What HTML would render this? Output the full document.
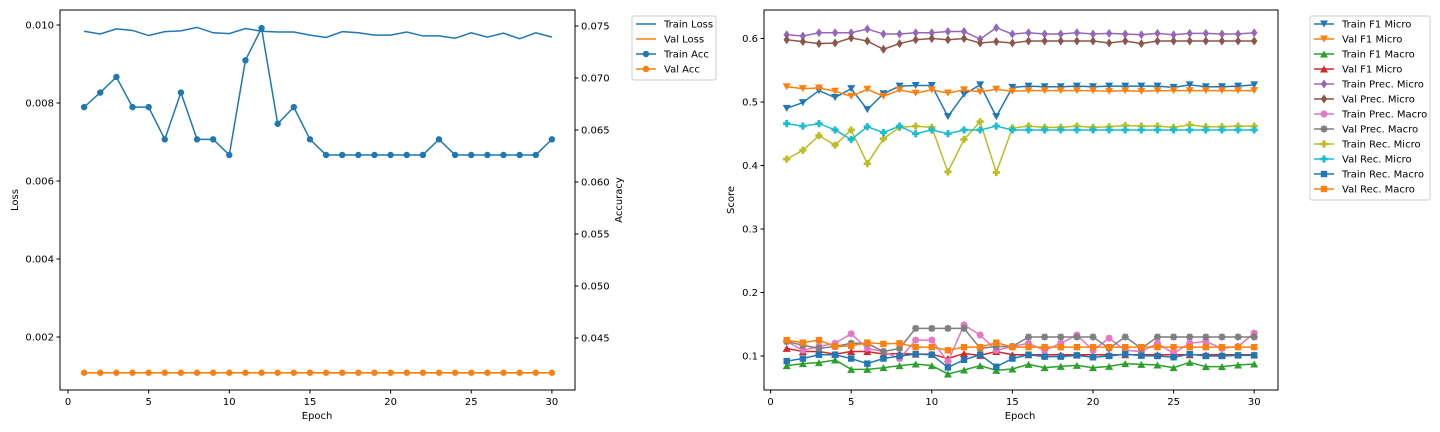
<!DOCTYPE html>
<html><head><meta charset="utf-8">
<style>
html,body{margin:0;padding:0;background:#fff;}
svg{display:block;font-family:"DejaVu Sans","Liberation Sans",sans-serif;}
</style></head>
<body>
<svg id="chart" width="1440" height="432" viewBox="0 0 1440 432" xmlns="http://www.w3.org/2000/svg"></svg>
<script>
const epochs = Array.from({length:30},(_,i)=>i+1);
const xTicks = [0,5,10,15,20,25,30];
const lossTicks = [0.002,0.004,0.006,0.008,0.010];
const lossTickLabels = ["0.002","0.004","0.006","0.008","0.010"];
const accTicks = [0.045,0.050,0.055,0.060,0.065,0.070,0.075];
const accTickLabels = ["0.045","0.050","0.055","0.060","0.065","0.070","0.075"];
const scoreTicks = [0.1,0.2,0.3,0.4,0.5,0.6];
const scoreTickLabels = ["0.1","0.2","0.3","0.4","0.5","0.6"];

const trainLoss = [0.00984,0.00977,0.0099,0.00986,0.00973,0.00983,0.00985,0.00994,0.0098,0.00978,0.00991,0.00984,0.00982,0.00982,0.00974,0.00968,0.00983,0.0098,0.00974,0.00974,0.00982,0.00972,0.00972,0.00966,0.0098,0.00969,0.00979,0.00965,0.0098,0.00969];
const valLoss = Array(30).fill(0.00108);
const trainAcc = [0.0672,0.0686,0.0701,0.0672,0.0672,0.0641,0.0686,0.0641,0.0641,0.0626,0.0717,0.0748,0.0656,0.0672,0.0641,0.0626,0.0626,0.0626,0.0626,0.0626,0.0626,0.0626,0.0641,0.0626,0.0626,0.0626,0.0626,0.0626,0.0626,0.0641];
const valAcc = Array(30).fill(0.04166);

const trainF1Micro = [0.490,0.499,0.518,0.507,0.521,0.488,0.513,0.525,0.526,0.526,0.477,0.512,0.527,0.477,0.523,0.525,0.524,0.524,0.525,0.524,0.525,0.525,0.525,0.525,0.523,0.527,0.524,0.524,0.525,0.527];
const valF1Micro = [0.524,0.521,0.522,0.517,0.509,0.520,0.509,0.519,0.514,0.519,0.514,0.519,0.516,0.520,0.517,0.518,0.518,0.518,0.518,0.518,0.517,0.518,0.517,0.518,0.518,0.518,0.518,0.518,0.518,0.518];
const trainF1Macro = [0.0848,0.0879,0.0895,0.0937,0.079,0.079,0.0816,0.0848,0.0874,0.0848,0.0717,0.078,0.0848,0.0774,0.0795,0.0869,0.0816,0.0837,0.0853,0.0816,0.0837,0.0879,0.0869,0.0858,0.0816,0.09,0.0832,0.0832,0.0858,0.0874];
const valF1Macro = [0.112,0.107,0.107,0.103,0.107,0.107,0.103,0.104,0.103,0.103,0.096,0.104,0.101,0.107,0.102,0.102,0.102,0.102,0.102,0.102,0.102,0.102,0.102,0.102,0.102,0.102,0.102,0.102,0.102,0.102];
const trainPrecMicro = [0.606,0.604,0.609,0.609,0.609,0.615,0.607,0.607,0.609,0.609,0.611,0.611,0.599,0.617,0.607,0.609,0.607,0.607,0.609,0.607,0.608,0.607,0.606,0.608,0.606,0.608,0.608,0.607,0.607,0.609];
const valPrecMicro = [0.598,0.595,0.592,0.593,0.601,0.596,0.583,0.592,0.598,0.600,0.598,0.600,0.593,0.595,0.593,0.596,0.596,0.596,0.596,0.596,0.593,0.596,0.592,0.596,0.596,0.596,0.596,0.596,0.596,0.596];
const trainPrecMacro = [0.123,0.109,0.115,0.120,0.135,0.112,0.107,0.096,0.125,0.125,0.091,0.149,0.133,0.109,0.115,0.120,0.109,0.120,0.133,0.109,0.128,0.109,0.107,0.120,0.104,0.120,0.123,0.112,0.115,0.136];
const valPrecMacro = [0.123,0.117,0.112,0.115,0.120,0.120,0.107,0.112,0.1435,0.1435,0.1435,0.1435,0.112,0.115,0.115,0.130,0.130,0.130,0.130,0.130,0.112,0.130,0.112,0.130,0.130,0.130,0.130,0.130,0.130,0.130];
const trainRecMicro = [0.410,0.424,0.447,0.432,0.456,0.403,0.442,0.460,0.462,0.460,0.390,0.441,0.469,0.389,0.459,0.462,0.460,0.460,0.462,0.460,0.461,0.463,0.462,0.462,0.460,0.464,0.461,0.461,0.462,0.462];
const valRecMicro = [0.466,0.462,0.466,0.456,0.441,0.461,0.452,0.462,0.450,0.456,0.450,0.456,0.456,0.462,0.456,0.456,0.456,0.456,0.456,0.456,0.456,0.456,0.456,0.456,0.456,0.456,0.456,0.456,0.456,0.456];
const trainRecMacro = [0.092,0.096,0.102,0.102,0.096,0.088,0.096,0.100,0.103,0.102,0.082,0.094,0.102,0.083,0.096,0.102,0.099,0.099,0.101,0.098,0.100,0.103,0.1005,0.100,0.098,0.103,0.100,0.100,0.101,0.101];
const valRecMacro = [0.125,0.121,0.125,0.115,0.116,0.121,0.119,0.120,0.114,0.114,0.109,0.114,0.114,0.121,0.114,0.114,0.114,0.114,0.114,0.114,0.114,0.114,0.114,0.114,0.114,0.114,0.114,0.114,0.114,0.114];

const NS="http://www.w3.org/2000/svg";
const svg=document.getElementById('chart');
function mk(tag,attrs,parent){const e=document.createElementNS(NS,tag);for(const k in attrs)e.setAttribute(k,attrs[k]);(parent||svg).appendChild(e);return e;}
function txt(s,x,y,anchor,parent,size,rot){const t=mk('text',{x:x,y:y,'text-anchor':anchor,'font-size':size||10,fill:'#000'},parent);if(rot)t.setAttribute('transform',`rotate(-90 ${x} ${y})`);t.textContent=s;return t;}

// scales
const Lx=e=>68+e*16.13;
const Ly=v=>337-(v-0.002)/0.001*39;
const Ay=v=>338-(v-0.045)/0.005*52;
const Rx=e=>770.6+e*16.12;
const Ry=v=>356-(v-0.1)*635;

function marker(g,shape,x,y,c){
  if(shape==='o'){mk('circle',{cx:x,cy:y,r:3.2,fill:c},g);}
  else if(shape==='v'){mk('polygon',{points:`${x-4},${y-3.5} ${x+4},${y-3.5} ${x},${y+3.5}`,fill:c},g);}
  else if(shape==='^'){mk('polygon',{points:`${x-4},${y+3.5} ${x+4},${y+3.5} ${x},${y-3.5}`,fill:c},g);}
  else if(shape==='d'){mk('polygon',{points:`${x},${y-4.5} ${x+3.2},${y} ${x},${y+4.5} ${x-3.2},${y}`,fill:c},g);}
  else if(shape==='s'){mk('rect',{x:x-3.2,y:y-3.2,width:6.4,height:6.4,fill:c},g);}
  else if(shape==='P'){mk('path',{d:`M${x-1.4},${y-3.6}h2.8v2.2h2.2v2.8h-2.2v2.2h-2.8v-2.2h-2.2v-2.8h2.2z`,fill:c},g);}
  else if(shape==='*'){mk('path',{d:`M${x-3.5},${y}h7M${x},${y-3.5}v7M${x-2.6},${y-2.6}l5.2,5.2M${x+2.6},${y-2.6}l-5.2,5.2`,stroke:c,'stroke-width':2},g);}
}
function series(name,xs,ys,sx,sy,c,shape){
  const g=mk('g',{});
  
  
  const pts=xs.map((e,i)=>`${sx(e)},${sy(ys[i])}`).join(' ');
  mk('polyline',{points:pts,fill:'none',stroke:c,'stroke-width':1.5},g);
  if(shape)xs.forEach((e,i)=>marker(g,shape,sx(e),sy(ys[i]),c));
}
function axesBox(x0,y0,x1,y1,name){
  const r=mk('rect',{x:x0,y:y0,width:x1-x0,height:y1-y0,fill:'none',stroke:'#000','stroke-width':1});
  
  
}
function xAxis(sx,yb,name){
  const g=mk('g',{});
  
  
  xTicks.forEach(t=>{mk('line',{x1:sx(t),x2:sx(t),y1:yb,y2:yb+3.5,stroke:'#000'},g);txt(String(t),sx(t),yb+15,'middle',g);});
}
function yAxis(ticks,labels,sy,xa,side,name){
  const g=mk('g',{});
  
  
  ticks.forEach((t,i)=>{
    if(side==='l'){mk('line',{x1:xa-3.5,x2:xa,y1:sy(t),y2:sy(t),stroke:'#000'},g);txt(labels[i],xa-6,sy(t)+3.5,'end',g);}
    else{mk('line',{x1:xa,x2:xa+3.5,y1:sy(t),y2:sy(t),stroke:'#000'},g);txt(labels[i],xa+6,sy(t)+3.5,'start',g);}
  });
}
function legend(x,y,w,entries,name){
  const g=mk('g',{});
  
  
  mk('rect',{x:x,y:y,width:w,height:entries.length*15+4,fill:'#fff',stroke:'#ccc',rx:2},g);
  entries.forEach((en,i)=>{
    const yy=y+8+i*15;
    const eg=mk('g',{},g);
    
    
    mk('line',{x1:x+4,x2:x+24,y1:yy,y2:yy,stroke:en[1],'stroke-width':1.5},eg);
    if(en[2])marker(eg,en[2],x+14,yy,en[1]);
    txt(en[0],x+32,yy+3.5,'start',eg);
  });
}

// LEFT
axesBox(60,10,575,390,'loss-acc-axes');
series('train-loss-line',epochs,trainLoss,Lx,Ly,'#1f77b4',null);
series('val-loss-line',epochs,valLoss,Lx,Ly,'#ff7f0e',null);
series('train-acc-line',epochs,trainAcc,Lx,Ay,'#1f77b4','o');
series('val-acc-line',epochs,valAcc,Lx,Ay,'#ff7f0e','o');
xAxis(Lx,390,'left-x-axis');
yAxis(lossTicks,lossTickLabels,Ly,60,'l','loss-y-axis');
yAxis(accTicks,accTickLabels,Ay,575,'r','accuracy-y-axis');
let t=txt('Epoch',317,419,'middle');
t=txt('Loss',18,200,'middle',null,10,true);
t=txt('Accuracy',622,200,'middle',null,10,true);
legend(632,16,84,[['Train Loss','#1f77b4',null],['Val Loss','#ff7f0e',null],['Train Acc','#1f77b4','o'],['Val Acc','#ff7f0e','o']],'left-legend');

// RIGHT
axesBox(764,10,1278,390,'score-axes');
const rs=[
 ['train-f1-micro',trainF1Micro,'#1f77b4','v','Train F1 Micro'],
 ['val-f1-micro',valF1Micro,'#ff7f0e','v','Val F1 Micro'],
 ['train-f1-macro',trainF1Macro,'#2ca02c','^','Train F1 Macro'],
 ['val-f1-macro',valF1Macro,'#d62728','^','Val F1 Micro'],
 ['train-prec-micro',trainPrecMicro,'#9467bd','d','Train Prec. Micro'],
 ['val-prec-micro',valPrecMicro,'#8c564b','d','Val Prec. Micro'],
 ['train-prec-macro',trainPrecMacro,'#e377c2','*','Train Prec. Macro'],
 ['val-prec-macro',valPrecMacro,'#7f7f7f','*','Val Prec. Macro'],
 ['train-rec-micro',trainRecMicro,'#bcbd22','P','Train Rec. Micro'],
 ['val-rec-micro',valRecMicro,'#17becf','P','Val Rec. Micro'],
 ['train-rec-macro',trainRecMacro,'#1f77b4','s','Train Rec. Macro'],
 ['val-rec-macro',valRecMacro,'#ff7f0e','s','Val Rec. Macro']
];
rs.forEach(s=>series(s[0]+'-line',epochs,s[1],Rx,Ry,s[2],s[3]));
xAxis(Rx,390,'right-x-axis');
yAxis(scoreTicks,scoreTickLabels,Ry,764,'l','score-y-axis');
t=txt('Epoch',1020,419,'middle');
t=txt('Score',734,200,'middle',null,10,true);
legend(1310,16,120,rs.map(s=>[s[4],s[2],s[3]]),'right-legend');
</script>
</body></html>
